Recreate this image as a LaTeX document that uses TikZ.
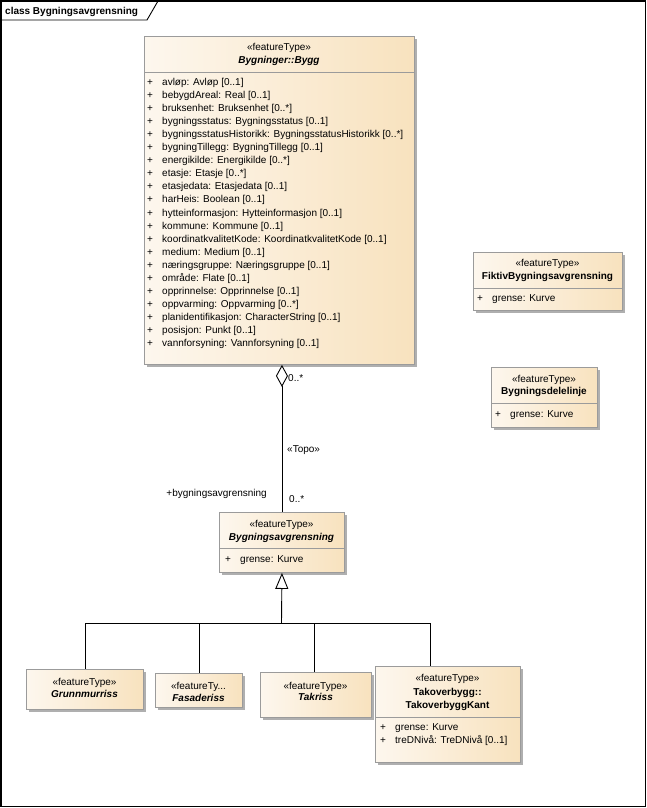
\documentclass[tikz,border=0pt]{standalone}
\usepackage{fontspec}
\setmainfont{Liberation Sans}
\usetikzlibrary{shadows,arrows.meta}

\definecolor{boxL}{RGB}{253,247,238}
\definecolor{boxR}{RGB}{248,226,190}
\definecolor{boxB}{RGB}{155,155,155}
\definecolor{shad}{RGB}{175,175,175}

\tikzset{
  cls/.style={draw=boxB, line width=0.9pt, left color=boxL, right color=boxR,
    drop shadow={shadow xshift=3pt, shadow yshift=-3pt, fill=shad, opacity=1},
    inner sep=0pt, anchor=north west},
  sepline/.style={draw=boxB, line width=0.9pt},
  txt/.style={inner sep=0pt, font=\fontsize{10}{13.05}\selectfont, text=black},
  stereo/.style={txt, anchor=base},
  cname/.style={txt, anchor=base, font=\fontsize{10}{13}\selectfont\bfseries},
  aname/.style={txt, anchor=base, font=\fontsize{10}{13}\selectfont\bfseries\itshape},
  attrs/.style={txt, anchor=base west},
  lbl/.style={txt},
  conn/.style={draw=black, line width=0.9pt},
}
\newcommand{\pl}{\makebox[15pt][l]{+}}

\begin{document}
\begin{tikzpicture}[x=1pt,y=-1pt]
\useasboundingbox (0,0) rectangle (647,808);
\fill[white] (0,0) rectangle (647,808);

% frame
\draw[line width=1.3pt] (1,1) rectangle (645.5,806.3);
\draw[line width=0.9pt] (1,20) -- (147,20) -- (158,1);
\node[txt, anchor=base west, font=\fontsize{10}{12}\selectfont\bfseries] (title) at (5,15) {class Bygningsavgrensning};

% Bygg
\node[cls, minimum width=270pt, minimum height=328pt] (bygg) at (144,36) {};
\draw[sepline] (144,72) -- (414,72);
\node[stereo] (byggst) at (279,50.5) {«featureType»};
\node[aname] (byggnm) at (279,63.5) {Bygninger::Bygg};
\foreach \t [count=\i from 0] in {avløp: Avløp [0..1],
  bebygdAreal: Real [0..1],
  bruksenhet: Bruksenhet [0..*],
  bygningsstatus: Bygningsstatus [0..1],
  bygningsstatusHistorikk: BygningsstatusHistorikk [0..*],
  bygningTillegg: BygningTillegg [0..1],
  energikilde: Energikilde [0..*],
  etasje: Etasje [0..*],
  etasjedata: Etasjedata [0..1],
  harHeis: Boolean [0..1],
  hytteinformasjon: Hytteinformasjon [0..1],
  kommune: Kommune [0..1],
  koordinatkvalitetKode: KoordinatkvalitetKode [0..1],
  medium: Medium [0..1],
  næringsgruppe: Næringsgruppe [0..1],
  område: Flate [0..1],
  opprinnelse: Opprinnelse [0..1],
  oppvarming: Oppvarming [0..*],
  planidentifikasjon: CharacterString [0..1],
  posisjon: Punkt [0..1],
  vannforsyning: Vannforsyning [0..1]}
  \node[attrs] (byggat\i) at (147,85.5+13.05*\i) {\pl \t};

% Bygningsavgrensning
\node[cls, minimum width=125pt, minimum height=60pt] (avgr) at (219,512) {};
\draw[sepline] (219,548) -- (344,548);
\node[stereo] (avgrst) at (281.5,527.5) {«featureType»};
\node[aname] (avgrnm) at (281.5,540) {Bygningsavgrensning};
\node[attrs] (avgrat) at (225,562.5) {\pl grense: Kurve};

% FiktivBygningsavgrensning
\node[cls, minimum width=149pt, minimum height=58pt] (fiktiv) at (473,252) {};
\draw[sepline] (473,288) -- (622,288);
\node[stereo] (fiktivst) at (547.5,266.5) {«featureType»};
\node[cname] (fiktivnm) at (547.5,279.5) {FiktivBygningsavgrensning};
\node[attrs] (fiktivat) at (477,301.5) {\pl grense: Kurve};

% Bygningsdelelinje
\node[cls, minimum width=106pt, minimum height=60pt] (delel) at (491,367) {};
\draw[sepline] (491,403) -- (597,403);
\node[stereo] (delelst) at (544,382.5) {«featureType»};
\node[cname] (delelnm) at (544,394.5) {Bygningsdelelinje};
\node[attrs] (delelat) at (495,417.5) {\pl grense: Kurve};

% children
\node[cls, minimum width=117pt, minimum height=40pt] (grunn) at (26,669) {};
\node[stereo] (grunnst) at (84.5,685.5) {«featureType»};
\node[aname] (grunnnm) at (84.5,697.5) {Grunnmurriss};

\node[cls, minimum width=87pt, minimum height=34pt] (fasade) at (155,673) {};
\node[stereo] (fasadest) at (198.5,689.5) {«featureTy...};
\node[aname] (fasadenm) at (198.5,701.5) {Fasaderiss};

\node[cls, minimum width=111pt, minimum height=45pt] (takriss) at (260,672) {};
\node[stereo] (takrissst) at (315.5,689.5) {«featureType»};
\node[aname] (takrissnm) at (315.5,700.5) {Takriss};

\node[cls, minimum width=145pt, minimum height=96pt] (takov) at (375,666) {};
\draw[sepline] (375,717) -- (520,717);
\node[stereo] (takovst) at (447.5,681.5) {«featureType»};
\node[cname] (takovnm1) at (447.5,695.5) {Takoverbygg::};
\node[cname] (takovnm2) at (447.5,708.5) {TakoverbyggKant};
\node[attrs] (takovat1) at (380,730.5) {\pl grense: Kurve};
\node[attrs] (takovat2) at (380,743.5) {\pl treDNivå: TreDNivå [0..1]};

% aggregation
\draw[conn, {Diamond[open, fill=white, length=22pt, width=12pt]}-] (avgr.north |- bygg.south) -- (avgr.north);
\node[lbl, anchor=west] (m1) at (288,378) {0..*};
\node[lbl, anchor=west] (topo) at (287,450) {«Topo»};
\node[lbl, anchor=east] (role) at (267,494) {+bygningsavgrensning};
\node[lbl, anchor=west] (m2) at (289,499) {0..*};

% generalization
\coordinate (j) at (281.5,623);
\draw[conn, {Triangle[open, fill=white, length=16pt, width=13pt]}-] (avgr.south) -- (j);
\draw[conn] (j) -| (grunn.north);
\draw[conn] (j) -| (fasade.north);
\draw[conn] (j) -| ([xshift=-1.5pt]takriss.north);
\draw[conn] (j) -| ([xshift=-17.5pt]takov.north);
\end{tikzpicture}
\end{document}
